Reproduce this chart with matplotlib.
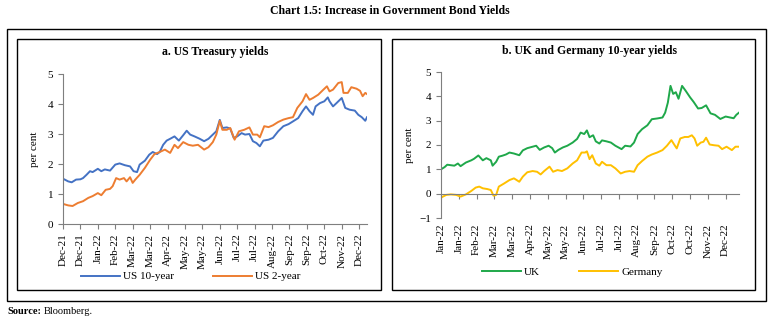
import matplotlib
matplotlib.use('Agg')
import matplotlib.pyplot as plt
from matplotlib.patches import Rectangle

plt.rcParams['font.family'] = ['Liberation Serif', 'DejaVu Serif']

# ---- panel a: US Treasury yields (x = trading day index, 20 days per tick) ----
us_ticks = ['Dec-21', 'Dec-21', 'Jan-22', 'Feb-22', 'Mar-22', 'Mar-22', 'Apr-22', 'May-22', 'May-22',
            'Jun-22', 'Jul-22', 'Jul-22', 'Aug-22', 'Sep-22', 'Sep-22', 'Oct-22', 'Nov-22', 'Dec-22']

us10_day = [0, 6, 10, 15, 20, 23, 27, 31, 34, 40, 44, 48, 54, 60, 65, 71, 77, 81, 85, 88,
            94, 99, 103, 108, 111, 115, 119, 123, 128, 133, 138, 142, 146, 151, 157, 162, 167, 172, 176, 180,
            183, 188, 192, 196, 200, 205, 209, 214, 218, 222, 226, 230, 236, 241, 247, 253, 259, 264, 270, 275,
            279, 283, 287, 290, 295, 300, 304, 306, 310, 314, 320, 324, 329, 335, 339, 343, 347, 349]
us10 = [1.51, 1.42, 1.39, 1.48, 1.49, 1.53, 1.64, 1.76, 1.73, 1.84, 1.76, 1.82, 1.78, 1.98, 2.02, 1.96, 1.92, 1.76, 1.73, 1.98,
        2.11, 2.31, 2.40, 2.33, 2.40, 2.64, 2.78, 2.84, 2.92, 2.78, 2.96, 3.11, 2.98, 2.92, 2.84, 2.76, 2.84, 2.98, 3.09, 3.47,
        3.20, 3.22, 3.18, 2.87, 2.92, 3.03, 2.98, 3.00, 2.76, 2.70, 2.59, 2.78, 2.81, 2.87, 3.09, 3.26, 3.33, 3.42, 3.53, 3.76,
        3.92, 3.76, 3.64, 3.92, 4.03, 4.09, 4.22, 4.09, 3.92, 4.03, 4.20, 3.87, 3.81, 3.78, 3.64, 3.56, 3.44, 3.56]

us2_day = [0, 6, 11, 17, 23, 29, 34, 40, 44, 49, 54, 57, 61, 65, 70, 73, 77, 80, 83, 88,
           94, 100, 105, 111, 117, 123, 128, 132, 138, 144, 149, 155, 162, 167, 172, 176, 180, 183, 188, 192,
           197, 202, 208, 214, 218, 223, 226, 231, 236, 241, 247, 253, 259, 264, 269, 275, 279, 283, 287, 293,
           299, 303, 306, 310, 316, 320, 322, 327, 331, 337, 341, 344, 347, 349]
us2 = [0.67, 0.62, 0.60, 0.70, 0.76, 0.87, 0.93, 1.03, 0.96, 1.14, 1.17, 1.26, 1.53, 1.48, 1.53, 1.42, 1.56, 1.37, 1.48, 1.64,
       1.87, 2.14, 2.33, 2.40, 2.48, 2.37, 2.64, 2.53, 2.73, 2.64, 2.61, 2.64, 2.48, 2.56, 2.73, 2.98, 3.44, 3.14, 3.14, 3.20,
       2.81, 3.09, 3.14, 3.22, 2.98, 2.98, 2.89, 3.26, 3.23, 3.29, 3.40, 3.48, 3.53, 3.56, 3.87, 4.09, 4.33, 4.14, 4.20, 4.31,
       4.48, 4.59, 4.42, 4.48, 4.70, 4.73, 4.37, 4.37, 4.56, 4.51, 4.44, 4.26, 4.37, 4.33]

# ---- panel b: UK and Germany 10-year yields ----
eu_ticks = ['Jan-22', 'Jan-22', 'Feb-22', 'Mar-22', 'Mar-22', 'Apr-22', 'May-22', 'May-22', 'Jun-22',
            'Jul-22', 'Jul-22', 'Aug-22', 'Sep-22', 'Oct-22', 'Oct-22', 'Nov-22', 'Dec-22']

uk_day = [0, 4, 7, 11, 15, 19, 22, 28, 34, 37, 42, 47, 51, 56, 58, 62, 65, 69, 73, 77,
          82, 88, 92, 97, 103, 107, 111, 116, 121, 125, 128, 132, 137, 142, 148, 153, 157, 161, 164, 167,
          171, 174, 178, 181, 186, 191, 196, 203, 207, 213, 217, 221, 226, 232, 237, 243, 249, 252, 255, 258,
          261, 264, 267, 271, 275, 280, 284, 289, 293, 298, 303, 308, 314, 320, 325, 329, 332, 335]
uk = [1.00, 1.09, 1.19, 1.17, 1.15, 1.24, 1.13, 1.28, 1.37, 1.43, 1.57, 1.37, 1.46, 1.37, 1.15, 1.31, 1.52, 1.56, 1.61, 1.69,
      1.65, 1.58, 1.78, 1.87, 1.93, 1.97, 1.80, 1.90, 1.97, 1.87, 1.69, 1.80, 1.90, 1.97, 2.10, 2.25, 2.51, 2.45, 2.60, 2.32,
      2.40, 2.15, 2.06, 2.19, 2.15, 2.10, 1.97, 1.83, 1.97, 1.94, 2.10, 2.45, 2.65, 2.81, 3.06, 3.09, 3.13, 3.33, 3.74, 4.43,
      4.10, 4.17, 3.90, 4.43, 4.23, 3.96, 3.77, 3.50, 3.52, 3.63, 3.30, 3.24, 3.07, 3.17, 3.13, 3.10, 3.24, 3.33]

de_day = [0, 6, 11, 17, 22, 28, 34, 39, 43, 47, 52, 56, 59, 62, 65, 71, 77, 82, 88, 92,
          97, 103, 108, 112, 116, 122, 126, 131, 136, 142, 148, 153, 158, 162, 164, 167, 170, 174, 178, 181,
          186, 191, 196, 202, 207, 212, 217, 221, 226, 232, 237, 243, 249, 254, 259, 263, 265, 269, 274, 278,
          282, 285, 288, 292, 295, 298, 302, 307, 312, 316, 321, 327, 331, 335]
de = [-0.16, -0.05, -0.03, -0.05, -0.12, -0.03, 0.11, 0.25, 0.29, 0.22, 0.19, 0.15, -0.08, -0.05, 0.29, 0.42, 0.56, 0.63, 0.49, 0.70,
      0.88, 0.93, 0.90, 0.79, 0.93, 1.11, 0.90, 0.97, 0.93, 1.04, 1.24, 1.37, 1.69, 1.69, 1.74, 1.42, 1.58, 1.24, 1.15, 1.31,
      1.17, 1.17, 1.04, 0.83, 0.90, 0.93, 0.90, 1.17, 1.34, 1.52, 1.61, 1.69, 1.79, 1.97, 2.20, 1.97, 1.86, 2.27, 2.33, 2.33,
      2.40, 2.27, 1.97, 2.10, 2.13, 2.30, 2.02, 1.99, 1.97, 1.83, 1.93, 1.79, 1.93, 1.93]

W, H = 776, 322
fig = plt.figure(figsize=(W / 100, H / 100), dpi=100)


def fx(px):
    return px / W


def fy(py):
    return 1 - py / H


# frames
fig.add_artist(Rectangle((fx(7), fy(301)), fx(766) - fx(7), fy(29) - fy(301), transform=fig.transFigure,
                         fill=False, lw=1.0, ec='black'))
fig.add_artist(Rectangle((fx(17), fy(290)), fx(381) - fx(17), fy(39) - fy(290), transform=fig.transFigure,
                         fill=False, lw=1.0, ec='black'))
fig.add_artist(Rectangle((fx(392), fy(290)), fx(755) - fx(392), fy(39) - fy(290), transform=fig.transFigure,
                         fill=False, lw=1.0, ec='black'))

fig.text(fx(390), fy(11), 'Chart 1.5: Increase in Government Bond Yields', ha='center', va='center',
         fontsize=8.5, fontweight='bold')
fig.text(fx(7), fy(312), 'Source:', ha='left', va='center', fontsize=7.5, fontweight='bold')
fig.text(fx(44), fy(312), 'Bloomberg.', ha='left', va='center', fontsize=7.5)

grey = '#7f7f7f'
tick_kw = dict(labelsize=8, color=grey, length=3.5, width=0.8)

# panel a
ax1 = fig.add_axes([fx(63), fy(224), fx(367) - fx(63), fy(74) - fy(224)])
ax1.plot(us10_day, us10, color='#4472C4', lw=1.4, label='US 10-year')
ax1.plot(us2_day, us2, color='#ED7D31', lw=1.4, label='US 2-year')
ax1.set_xlim(0, 349)
ax1.set_ylim(0, 5)
ax1.set_yticks(range(0, 6))
ax1.set_xticks(range(0, 20 * len(us_ticks), 20))
ax1.set_xticklabels(us_ticks, rotation=90)
ax1.tick_params(**tick_kw)
for s in ['top', 'right']:
    ax1.spines[s].set_visible(False)
for s in ['left', 'bottom']:
    ax1.spines[s].set_color(grey)
    ax1.spines[s].set_linewidth(0.8)
ax1.set_ylabel('per cent', fontsize=8, labelpad=6)
ax1.set_title('a. US Treasury yields', fontsize=8.5, fontweight='bold', pad=14)
ax1.legend(loc='center', bbox_to_anchor=(0.42, -0.35), ncol=2, frameon=False, fontsize=8,
           handlelength=3.5, columnspacing=3.5, handletextpad=0.3)

# panel b
ax2 = fig.add_axes([fx(441), fy(218), fx(739) - fx(441), fy(72) - fy(218)])
ax2.plot(uk_day, uk, color='#1FA84A', lw=1.4, label='UK')
ax2.plot(de_day, de, color='#FFC000', lw=1.4, label='Germany')
ax2.set_xlim(0, 335)
ax2.set_ylim(-1, 5)
ax2.set_yticks(range(-1, 6))
ticks_b = list(range(0, 20 * len(eu_ticks), 20))
ax2.spines['bottom'].set_position(('data', 0))
ax2.set_xticks(ticks_b)
ax2.tick_params(**tick_kw)
ax2.tick_params(axis='x', labelbottom=False)
for s in ['top', 'right']:
    ax2.spines[s].set_visible(False)
for s in ['left', 'bottom']:
    ax2.spines[s].set_color(grey)
    ax2.spines[s].set_linewidth(0.8)
sec = ax2.secondary_xaxis('bottom')
sec.set_xticks(ticks_b)
sec.set_xticklabels(eu_ticks, rotation=90)
sec.tick_params(length=0, labelsize=8, pad=4)
sec.spines['bottom'].set_visible(False)
ax2.set_ylabel('per cent', fontsize=8, labelpad=4)
ax2.set_title('b. UK and Germany 10-year yields', fontsize=8.5, fontweight='bold', pad=13)
ax2.legend(loc='center', bbox_to_anchor=(0.44, -0.37), ncol=2, frameon=False, fontsize=8,
           handlelength=3.5, columnspacing=3.5, handletextpad=0.3)

fig.savefig('out.png', dpi=100)
